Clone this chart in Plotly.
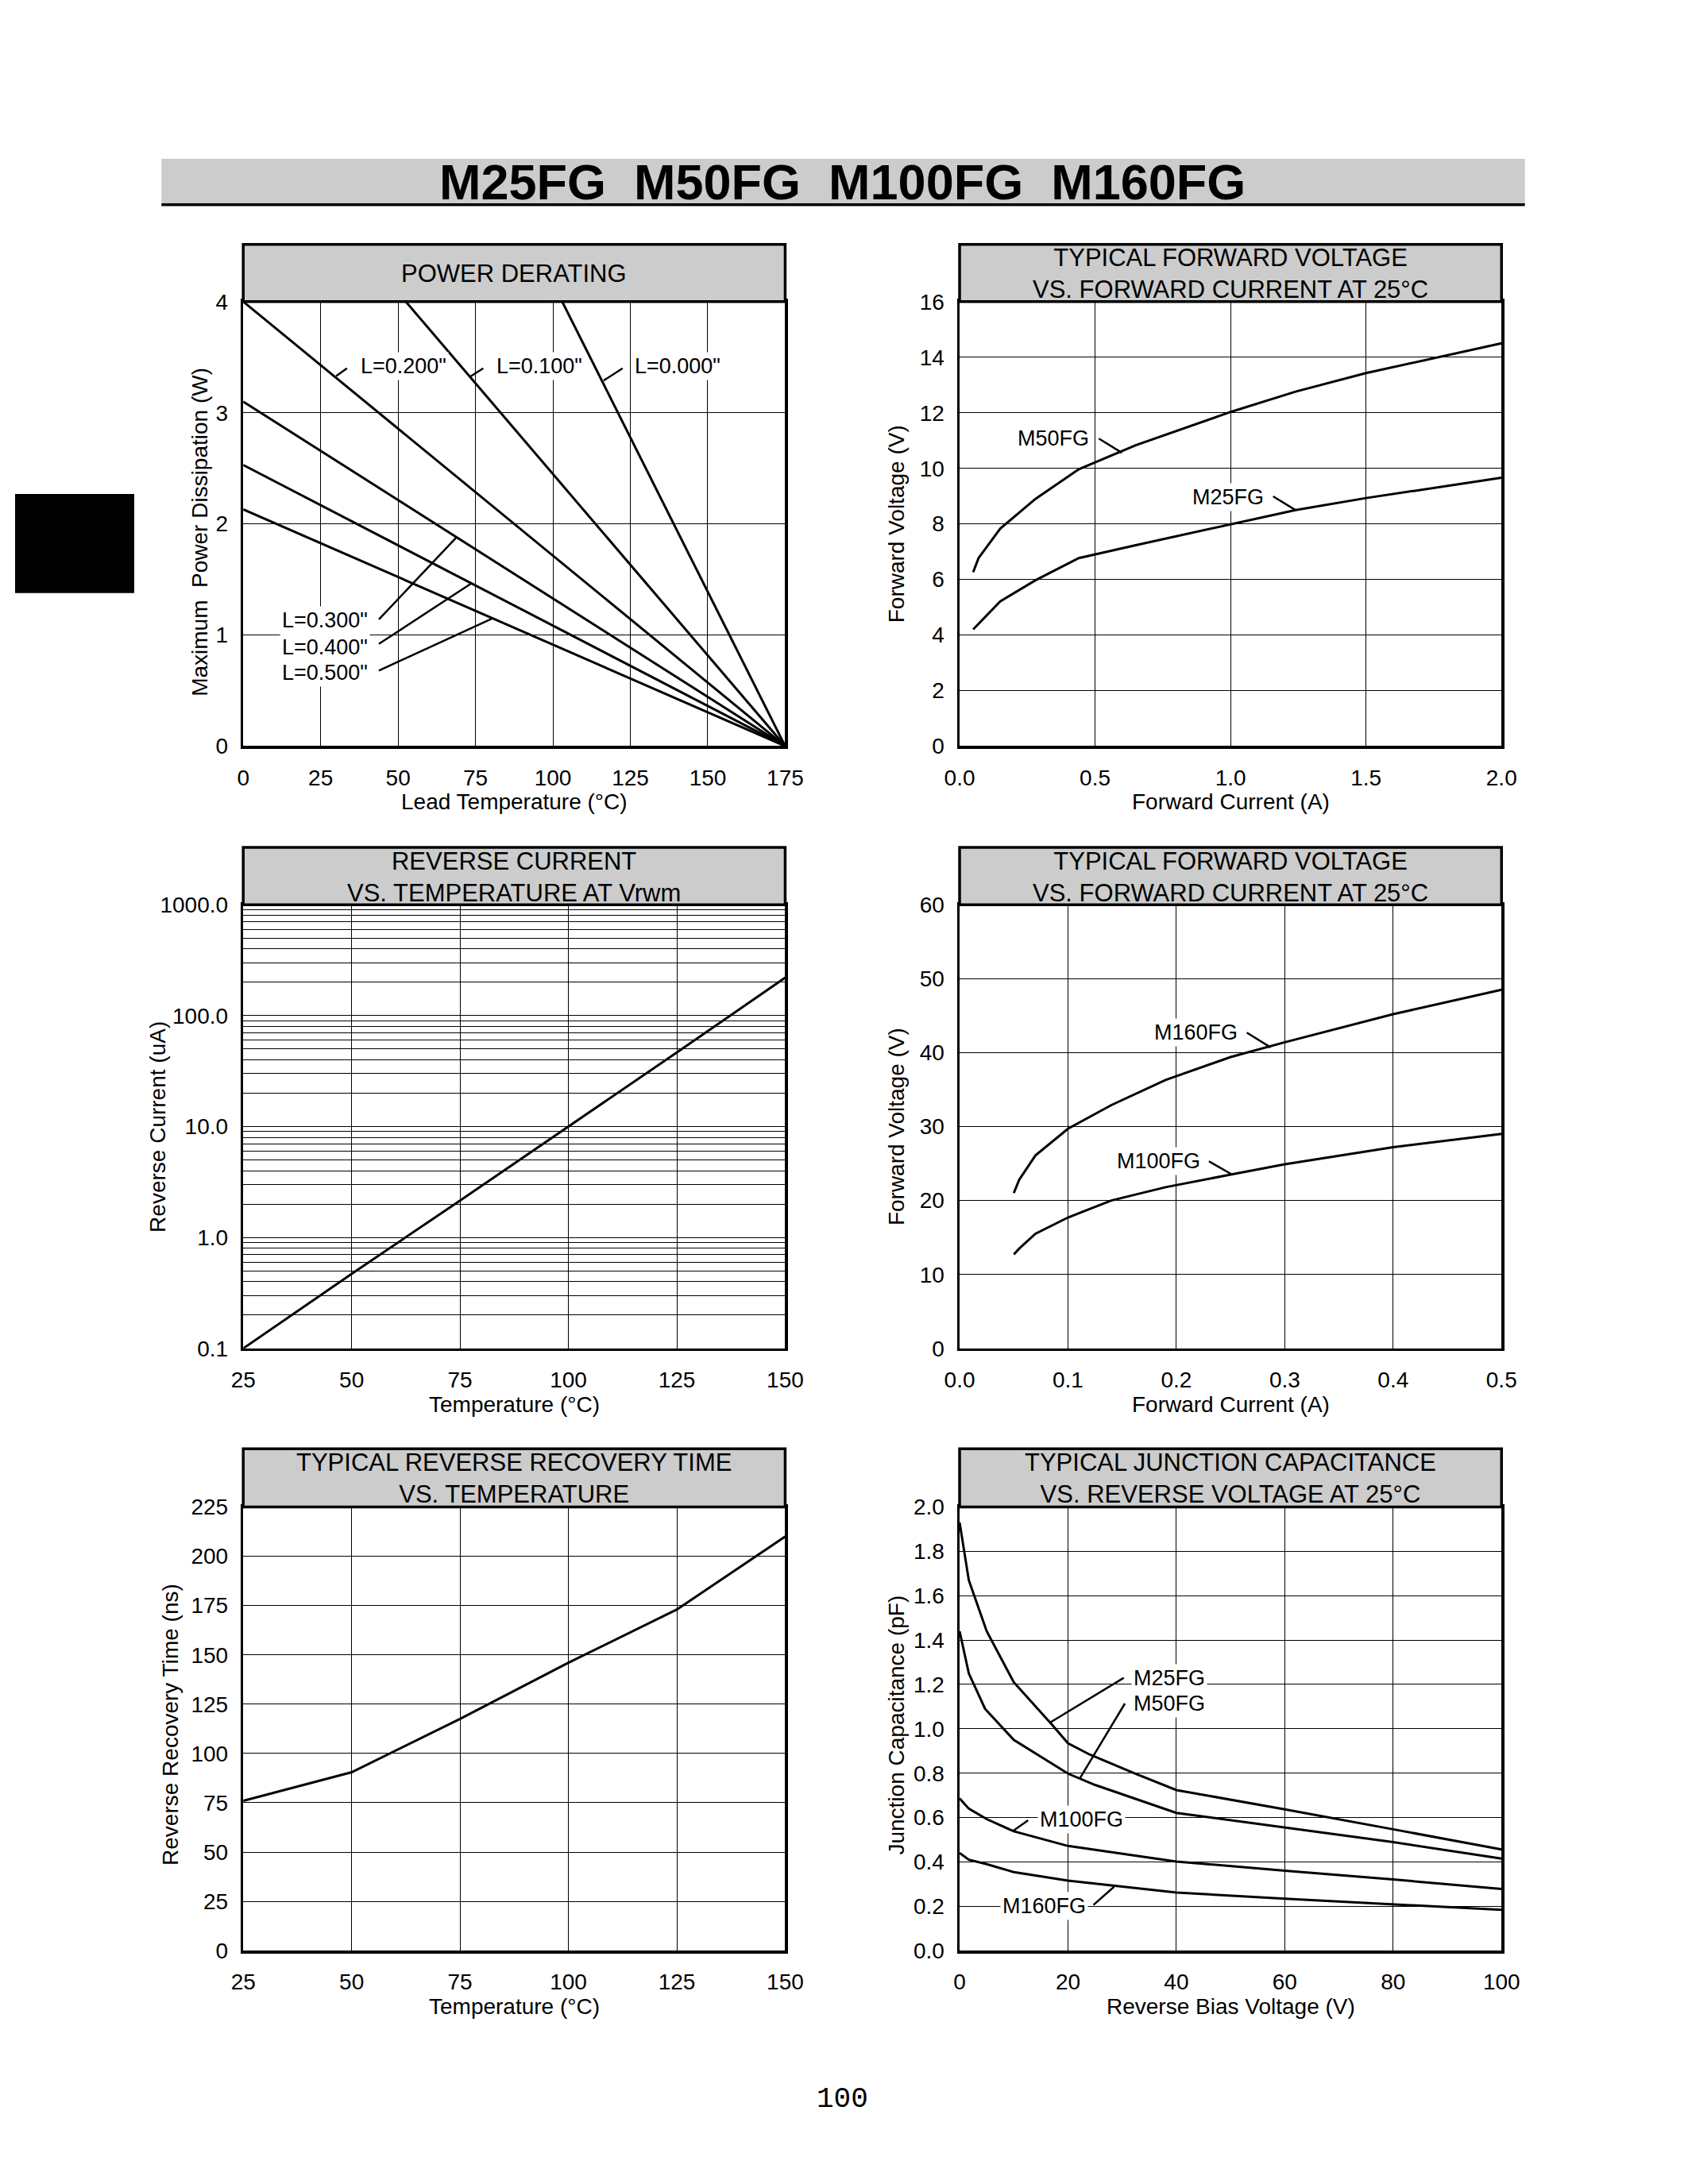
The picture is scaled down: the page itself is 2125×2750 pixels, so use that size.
import plotly.graph_objects as go

W, H = 2125, 2750
FONT = "Liberation Sans, Arial, Helvetica, sans-serif"

# ---------------- DATA ----------------
# Chart 1: power derating (lines end at 175 C, 0 W)
derate_labels = ['L=0.000"', 'L=0.100"', 'L=0.200"', 'L=0.300"', 'L=0.400"', 'L=0.500"']
derate_t_start = [103.0, 52.5, 0.0, 0.0, 0.0, 0.0]
derate_p_start = [4.0, 4.0, 4.0, 3.10, 2.53, 2.13]
derate_t_end = 175.0
derate_p_end = 0.0

# Chart 2: forward voltage vs forward current (M50FG / M25FG)
m50_current = [0.05, 0.07, 0.15, 0.28, 0.44, 0.65, 1.0, 1.24, 1.5, 1.78, 2.0]
m50_vf = [6.26, 6.77, 7.83, 8.90, 9.97, 10.83, 12.03, 12.76, 13.43, 14.03, 14.5]
m25_current = [0.05, 0.15, 0.28, 0.44, 0.65, 1.0, 1.24, 1.5, 1.78, 2.0]
m25_vf = [4.20, 5.21, 5.97, 6.77, 7.23, 7.99, 8.50, 8.93, 9.33, 9.66]

# Chart 3: reverse current vs temperature
rc_temp = [25, 50, 75, 100, 125, 150]
rc_current = [0.1, 0.47, 2.15, 10.0, 46.5, 220.0]

# Chart 4: forward voltage vs forward current (M160FG / M100FG)
fv2_current = [0.05, 0.055, 0.07, 0.10, 0.14, 0.19, 0.25, 0.30, 0.40, 0.50]
m160_vf = [21.0, 22.8, 26.1, 29.7, 32.9, 36.3, 39.4, 41.4, 45.2, 48.5]
m100_vf = [12.7, 13.5, 15.5, 17.7, 20.0, 21.8, 23.5, 24.9, 27.2, 29.0]

# Chart 5: reverse recovery time vs temperature
trr_temp = [25, 50, 75, 100, 125, 150]
trr_ns = [76, 90.5, 117.5, 146, 173, 210]

# Chart 6: junction capacitance vs reverse voltage
cj_m25_v = [0, 1.7, 5, 10, 17, 20, 24, 32, 40, 60, 80, 100]
cj_m25 = [1.93, 1.67, 1.44, 1.21, 1.02, 0.935, 0.884, 0.802, 0.724, 0.637, 0.547, 0.456]
cj_m50_v = [0, 1.7, 4.7, 10, 20, 25, 40, 60, 80, 100]
cj_m50 = [1.44, 1.25, 1.09, 0.95, 0.798, 0.747, 0.621, 0.555, 0.489, 0.415]
cj_small_v = [0, 1.7, 5, 10, 20, 40, 60, 80, 100]
cj_m100 = [0.686, 0.64, 0.593, 0.538, 0.472, 0.402, 0.36, 0.321, 0.278]
cj_m160 = [0.44, 0.41, 0.39, 0.354, 0.316, 0.262, 0.234, 0.209, 0.184]

# log-axis tick labels
rc_major = [0.1, 1, 10, 100, 1000]
rc_major_text = ["0.1", "1.0", "10.0", "100.0", "1000.0"]

# ---------------- LAYOUT GEOMETRY (pixels) ----------------
COLS = [(293, 989), (1213, 1909)]
ROWS = [(296, 369, 935), (1064, 1137, 1702), (1830, 1904, 2469)]

TICK_SIZE = 28
TITLE_SIZE = 28
LABEL_SIZE = 27
HEAD_SIZE = 31


def fx(px):
    return px / W


def fy(py):
    return 1 - py / H


fig = go.Figure()
LINE = dict(color="black", width=3)


def add_line(x, y, n):
    fig.add_trace(go.Scatter(x=x, y=y, mode="lines", line=LINE, showlegend=False,
                             hoverinfo="skip", xaxis=f"x{n}", yaxis=f"y{n}"))


# Chart 1
for ts, ps in zip(derate_t_start, derate_p_start):
    add_line([ts, derate_t_end], [ps, derate_p_end], 1)
# Chart 2
add_line(m50_current, m50_vf, 2)
add_line(m25_current, m25_vf, 2)
# Chart 3
add_line(rc_temp, rc_current, 3)
# Chart 4
add_line(fv2_current, m160_vf, 4)
add_line(fv2_current, m100_vf, 4)
# Chart 5
add_line(trr_temp, trr_ns, 5)
# Chart 6
add_line(cj_m25_v, cj_m25, 6)
add_line(cj_m50_v, cj_m50, 6)
add_line(cj_small_v, cj_m100, 6)
add_line(cj_small_v, cj_m160, 6)

tickfont = dict(family=FONT, size=TICK_SIZE, color="black")


def xaxis(col, row, n, **kw):
    d = dict(domain=[fx(COLS[col][0]), fx(COLS[col][1])], anchor=f"y{n}",
             showline=True, mirror=True, linecolor="black", linewidth=3.5,
             showgrid=True, gridcolor="black", gridwidth=1, zeroline=False,
             ticks="outside", ticklen=12, tickcolor="rgba(0,0,0,0)",
             tickfont=tickfont, fixedrange=True)
    d.update(kw)
    return d


def yaxis(col, row, n, **kw):
    r = ROWS[row]
    d = dict(domain=[fy(r[2]), fy(r[1])], anchor=f"x{n}",
             showline=True, mirror=True, linecolor="black", linewidth=3.5,
             showgrid=True, gridcolor="black", gridwidth=1, zeroline=False,
             ticks="outside", ticklen=10, tickcolor="rgba(0,0,0,0)",
             tickfont=tickfont, fixedrange=True)
    d.update(kw)
    return d


rc_tickvals = []
rc_ticktext = []
for dec, lab in zip(rc_major[:-1], rc_major_text[:-1]):
    for k in range(1, 10):
        rc_tickvals.append(dec * k)
        rc_ticktext.append(lab if k == 1 else "")
rc_tickvals.append(rc_major[-1])
rc_ticktext.append(rc_major_text[-1])

layout = dict(
    width=W, height=H, margin=dict(l=0, r=0, t=0, b=0),
    paper_bgcolor="white", plot_bgcolor="white", showlegend=False,
    font=dict(family=FONT, color="black"),
    xaxis=xaxis(0, 0, 1, range=[0, 175], dtick=25, tick0=0),
    yaxis=yaxis(0, 0, 1, range=[0, 4], dtick=1, tick0=0),
    xaxis2=xaxis(1, 0, 2, range=[0, 2], dtick=0.5, tick0=0, tickformat=".1f"),
    yaxis2=yaxis(1, 0, 2, range=[0, 16], dtick=2, tick0=0),
    xaxis3=xaxis(0, 1, 3, range=[25, 150], dtick=25, tick0=25),
    yaxis3=yaxis(0, 1, 3, type="log", range=[-1, 3], tickmode="array",
                 tickvals=rc_tickvals, ticktext=rc_ticktext),
    xaxis4=xaxis(1, 1, 4, range=[0, 0.5], dtick=0.1, tick0=0, tickformat=".1f"),
    yaxis4=yaxis(1, 1, 4, range=[0, 60], dtick=10, tick0=0),
    xaxis5=xaxis(0, 2, 5, range=[25, 150], dtick=25, tick0=25),
    yaxis5=yaxis(0, 2, 5, range=[0, 225], dtick=25, tick0=0),
    xaxis6=xaxis(1, 2, 6, range=[0, 100], dtick=20, tick0=0),
    yaxis6=yaxis(1, 2, 6, range=[0, 2.0], dtick=0.2, tick0=0, tickformat=".1f"),
)
fig.update_layout(**layout)

shapes = []
annotations = []

# Title banner
shapes.append(dict(type="rect", xref="paper", yref="paper", x0=fx(188), x1=fx(1939),
                   y0=fy(245), y1=fy(187), fillcolor="#cccccc", line=dict(width=0), layer="below"))
shapes.append(dict(type="line", xref="paper", yref="paper", x0=fx(188), x1=fx(1939),
                   y0=fy(245.5), y1=fy(245.5), line=dict(color="black", width=3.5)))
annotations.append(dict(xref="paper", yref="paper", x=fx(1063), y=fy(216),
                        text="M25FG\u00a0\u00a0M50FG\u00a0\u00a0M100FG\u00a0\u00a0M160FG",
                        showarrow=False, xanchor="center", yanchor="middle",
                        font=dict(family=FONT, size=63, color="black", weight="bold")))

# Side tab
shapes.append(dict(type="rect", xref="paper", yref="paper", x0=0, x1=fx(153),
                   y0=fy(740), y1=fy(614), fillcolor="black", line=dict(width=0)))

# Page number
annotations.append(dict(xref="paper", yref="paper", x=fx(1063), y=fy(2658), text="100",
                        showarrow=False, xanchor="center", yanchor="middle",
                        font=dict(family="Liberation Mono, Courier New, monospace", size=36, color="black")))

# Header boxes
headers = [
    (0, 0, "POWER DERATING"),
    (1, 0, "TYPICAL FORWARD VOLTAGE<br>VS. FORWARD CURRENT AT 25°C"),
    (0, 1, "REVERSE CURRENT<br>VS. TEMPERATURE AT Vrwm"),
    (1, 1, "TYPICAL FORWARD VOLTAGE<br>VS. FORWARD CURRENT AT 25°C"),
    (0, 2, "TYPICAL REVERSE RECOVERY TIME<br>VS. TEMPERATURE"),
    (1, 2, "TYPICAL JUNCTION CAPACITANCE<br>VS. REVERSE VOLTAGE AT 25°C"),
]
for col, row, txt in headers:
    x0, x1 = COLS[col]
    top, bot = ROWS[row][0], ROWS[row][1]
    shapes.append(dict(type="rect", xref="paper", yref="paper", x0=fx(x0), x1=fx(x1),
                       y0=fy(bot), y1=fy(top), fillcolor="#cccccc",
                       line=dict(color="black", width=3.5)))
    annotations.append(dict(xref="paper", yref="paper", x=fx((x0 + x1) / 2), y=fy((top + bot) / 2 + 1),
                            text=txt, showarrow=False, xanchor="center", yanchor="middle",
                            font=dict(family=FONT, size=HEAD_SIZE, color="black")))

# Axis titles: (col, row, x title, y title, y-title x px, y-title vertical shift px)
axis_titles = [
    (0, 0, "Lead Temperature (°C)", "Maximum  Power Dissipation (W)", 237, 10),
    (1, 0, "Forward Current (A)", "Forward Voltage (V)", 1132, 0),
    (0, 1, "Temperature (°C)", "Reverse Current (uA)", 183, 0),
    (1, 1, "Forward Current (A)", "Forward Voltage (V)", 1132, 0),
    (0, 2, "Temperature (°C)", "Reverse Recovery Time (ns)", 200, -5),
    (1, 2, "Reverse Bias Voltage (V)", "Junction Capacitance (pF)", 1132, -5),
]
for col, row, xt, yt, ypx, dy in axis_titles:
    x0, x1 = COLS[col]
    top, bot = ROWS[row][1], ROWS[row][2]
    annotations.append(dict(xref="paper", yref="paper", x=fx((x0 + x1) / 2), y=fy(bot + 71),
                            text=xt, showarrow=False, xanchor="center", yanchor="middle",
                            font=dict(family=FONT, size=TITLE_SIZE, color="black")))
    annotations.append(dict(xref="paper", yref="paper", x=fx(ypx), y=fy((top + bot) / 2 + dy),
                            text=yt, showarrow=False, xanchor="center", yanchor="middle",
                            textangle=-90, font=dict(family=FONT, size=TITLE_SIZE, color="black")))

# Curve labels with leader lines: (axis n, text, x, y, anchor, leader x0,y0,x1,y1)
curve_labels = [
    (1, 'L=0.200"', 37.1, 3.42, "left", 30.0, 3.33, 33.5, 3.40),
    (1, 'L=0.100"', 81.0, 3.42, "left", 73.0, 3.32, 77.5, 3.40),
    (1, 'L=0.000"', 125.7, 3.42, "left", 116.4, 3.29, 122.5, 3.40),
    (1, 'L=0.300"', 41.0, 1.13, "right", 43.8, 1.14, 68.9, 1.88),
    (1, 'L=0.400"', 41.0, 0.89, "right", 43.8, 0.92, 73.7, 1.465),
    (1, 'L=0.500"', 41.0, 0.66, "right", 43.8, 0.68, 80.5, 1.15),
    (2, "M50FG", 0.486, 11.07, "right", 0.514, 11.07, 0.599, 10.56),
    (2, "M25FG", 1.131, 8.97, "right", 1.157, 8.99, 1.239, 8.50),
    (4, "M160FG", 0.259, 42.7, "right", 0.265, 42.7, 0.287, 40.7),
    (4, "M100FG", 0.224, 25.3, "right", 0.230, 25.3, 0.2515, 23.5),
    (6, "M25FG", 31.6, 1.23, "left", 30.3, 1.23, 16.8, 1.03),
    (6, "M50FG", 31.6, 1.114, "left", 30.5, 1.114, 22.2, 0.777),
    (6, "M100FG", 14.4, 0.593, "left", 12.65, 0.588, 10.0, 0.542),
    (6, "M160FG", 23.8, 0.201, "right", 24.7, 0.206, 28.5, 0.288),
]
for n, txt, x, y, anc, lx0, ly0, lx1, ly1 in curve_labels:
    ax = "" if n == 1 else str(n)
    annotations.append(dict(xref=f"x{ax}", yref=f"y{ax}", x=x, y=y, text=txt, showarrow=False,
                            xanchor=anc, yanchor="middle", bgcolor="white", borderpad=2,
                            font=dict(family=FONT, size=LABEL_SIZE, color="black")))
    shapes.append(dict(type="line", xref=f"x{ax}", yref=f"y{ax}", x0=lx0, y0=ly0, x1=lx1, y1=ly1,
                       line=dict(color="black", width=2.5)))

fig.update_layout(shapes=shapes, annotations=annotations)
fig.write_html(
    "out.html",
    config={"displayModeBar": False, "staticPlot": True},
    post_script="document.body.style.margin='0';document.body.style.padding='0';"
                "document.documentElement.style.overflow='hidden';",
)
